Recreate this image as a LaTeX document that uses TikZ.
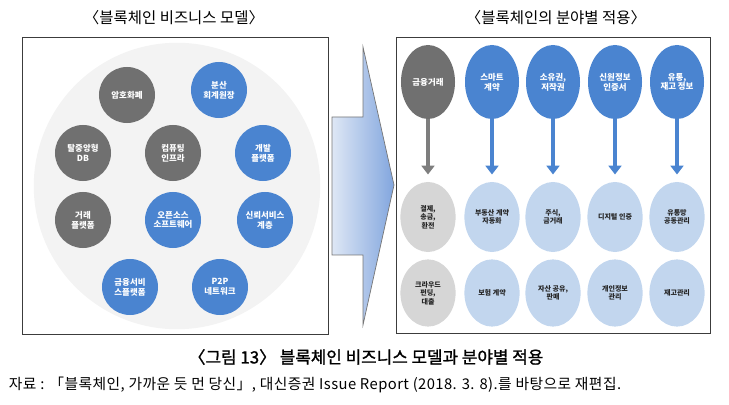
\documentclass[tikz,border=0pt]{standalone}
\usepackage{fontspec}
\setmainfont{Noto Sans CJK KR}
\newfontfamily\capfont{Noto Sans CJK KR}[FakeBold=1.3]
\newfontfamily\srcfont{Noto Sans CJK KR}[LetterSpace=3]
\usepackage{tikz}
\usetikzlibrary{arrows.meta,shapes.geometric}
\definecolor{dg}{RGB}{112,112,112}
\definecolor{bl}{RGB}{74,132,208}
\definecolor{lg}{RGB}{214,214,214}
\definecolor{lb}{RGB}{194,214,238}
\definecolor{bgc}{RGB}{243,243,243}
\definecolor{fr}{RGB}{60,60,60}
\definecolor{arl}{RGB}{222,231,245}
\definecolor{arr}{RGB}{130,166,222}

\tikzset{
  bizc/.style={circle,minimum size=1.4cm,inner sep=0pt,align=center,text=white,
    font=\fontsize{6}{7}\selectfont\bfseries},
  topel/.style={ellipse,minimum width=1.35cm,minimum height=1.85cm,inner sep=0pt,align=center,
    text=white,font=\fontsize{6}{7}\selectfont\bfseries},
  subel/.style={ellipse,minimum width=1.38cm,inner sep=0pt,align=center,
    text=black!85,font=\fontsize{5}{6}\selectfont\bfseries},
  stem/.style={-{Triangle[width=3.2mm,length=2.2mm]},line width=2.8pt,shorten >=0.18cm},
  board/.style={draw=fr,line width=0.7pt}
}

\begin{document}
\begin{tikzpicture}[x=0.025cm,y=-0.025cm]
  \useasboundingbox (0,0) rectangle (729,405);

  % titles
  \node[font=\fontsize{11}{13}\selectfont] (ltitle) at (174,18) {〈블록체인 비즈니스 모델〉};
  \node[font=\fontsize{11}{13}\selectfont] (rtitle) at (556,18) {〈블록체인의 분야별 적용〉};

  % left board
  \draw[board] (22,37) rectangle (328,334);
  \fill[bgc] (177,186) circle[radius=3.58cm];

  \node[bizc,fill=dg] (crypto) at (127,95) {암호화폐};
  \node[bizc,fill=bl] (ledger) at (219,90) {분산\\회계원장};
  \node[bizc,fill=dg] (ddb) at (83,153) {탈중앙형\\DB};
  \node[bizc,fill=dg] (infra) at (173,153) {컴퓨팅\\인프라};
  \node[bizc,fill=bl] (devp) at (263,153) {개발\\플랫폼};
  \node[bizc,fill=dg] (trade) at (83,220) {거래\\플랫폼};
  \node[bizc,fill=bl] (oss) at (173,220) {오픈소스\\소프트웨어};
  \node[bizc,fill=bl] (trust) at (265,220) {신뢰서비스\\계층};
  \node[bizc,fill=bl] (finsvc) at (130,287) {금융서비\\스플랫폼};
  \node[bizc,fill=bl] (p2p) at (220,287) {P2P\\네트워크};

  % big arrow
  \draw[draw=fr!70,line width=0.5pt,left color=arl,right color=arr]
    (332,117) -- (363,117) -- (363,47) -- (394,185) -- (363,325) -- (363,255) -- (332,255) -- cycle;

  % right board
  \draw[board] (396,37) rectangle (710,333);

  % top row
  \node[topel,fill=dg] (f1) at (428,82) {금융거래};
  \node[topel,fill=bl] (f2) at (492,82) {스마트\\계약};
  \node[topel,fill=bl] (f3) at (553,82) {소유권,\\저작권};
  \node[topel,fill=bl] (f4) at (615,82) {신원정보\\인증서};
  \node[topel,fill=bl] (f5) at (677,82) {유통,\\재고 정보};

  % middle row
  \node[subel,minimum height=1.75cm,fill=lg] (a1) at (428,217) {결제,\\송금,\\환전};
  \node[subel,minimum height=1.75cm,fill=lb] (a2) at (492,217) {부동산 계약\\자동화};
  \node[subel,minimum height=1.75cm,fill=lb] (a3) at (553,217) {주식,\\금거래};
  \node[subel,minimum height=1.75cm,fill=lb] (a4) at (615,217) {디지털 인증};
  \node[subel,minimum height=1.75cm,fill=lb] (a5) at (677,217) {유통망\\공동관리};

  % bottom row
  \node[subel,minimum height=1.68cm,fill=lg] (b1) at (428,293) {크라우드\\펀딩,\\대출};
  \node[subel,minimum height=1.68cm,fill=lb] (b2) at (492,293) {보험 계약};
  \node[subel,minimum height=1.68cm,fill=lb] (b3) at (553,293) {자산 공유,\\판매};
  \node[subel,minimum height=1.68cm,fill=lb] (b4) at (615,293) {개인정보\\관리};
  \node[subel,minimum height=1.68cm,fill=lb] (b5) at (677,293) {재고관리};

  % stems
  \draw[stem,dg!90] (f1.south) -- (a1.north);
  \foreach \i in {2,...,5}
    \draw[stem,bl] (f\i.south) -- (a\i.north);

  % caption
  \node[font=\fontsize{12}{14}\selectfont\capfont] (cap) at (366,357) {〈그림 13〉 블록체인 비즈니스 모델과 분야별 적용};
  \node[anchor=west,font=\fontsize{10.5}{12}\selectfont\srcfont] (src) at (4,385) {자료 : 「블록체인, 가까운 듯 먼 당신」, 대신증권 Issue Report (2018. 3. 8).를 바탕으로 재편집.};
\end{tikzpicture}
\end{document}
